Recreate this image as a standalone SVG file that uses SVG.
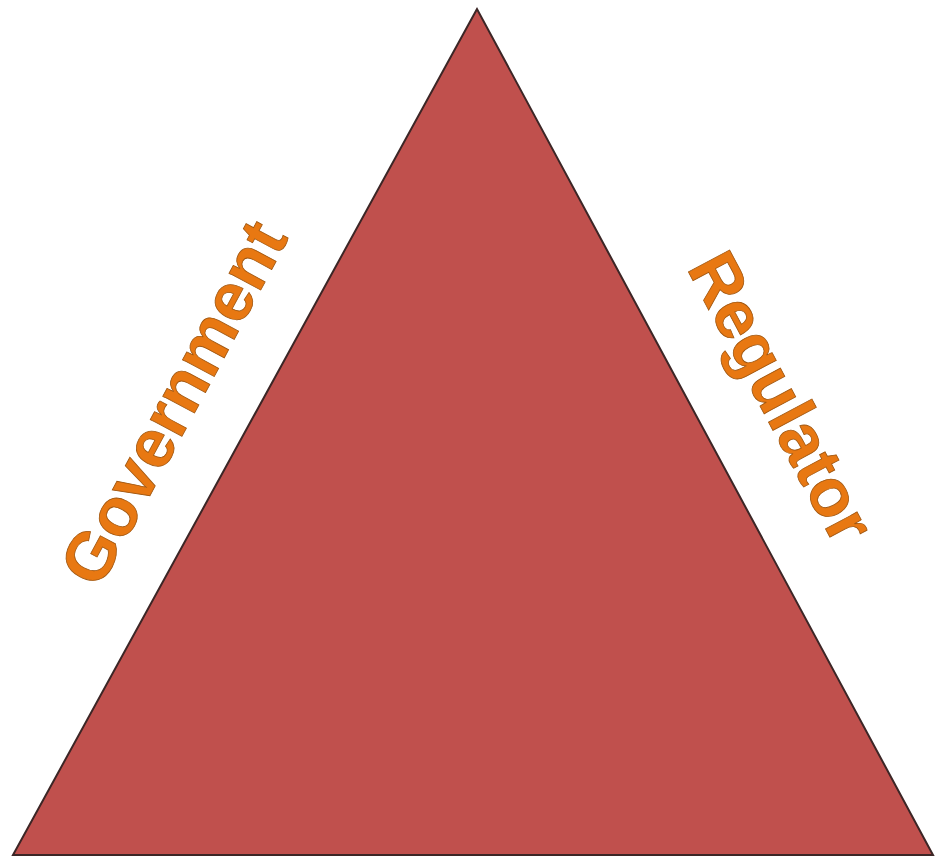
<svg xmlns="http://www.w3.org/2000/svg" width="935" height="859" viewBox="0 0 935 859">
  <defs>
    <style>
      .lbl { font-family: "Liberation Sans", Arial, sans-serif; font-weight: bold; font-size: 68px; fill: #e87812; stroke: #a0560f; stroke-width: 0.8; text-anchor: middle; }
    </style>
  </defs>
  <rect width="935" height="859" fill="#ffffff"/>
  <g id="triangle">
    <polygon points="477,9 13,855 933,855" fill="#c0504d" stroke="#3c2626" stroke-width="2" stroke-linejoin="miter"/>
  </g>
  <g id="label-government">
    <text class="lbl" transform="translate(194,414) rotate(-61.7)">Government</text>
  </g>
  <g id="label-regulator">
    <text class="lbl" transform="translate(761,408) rotate(61.9)">Regulator</text>
  </g>
</svg>
